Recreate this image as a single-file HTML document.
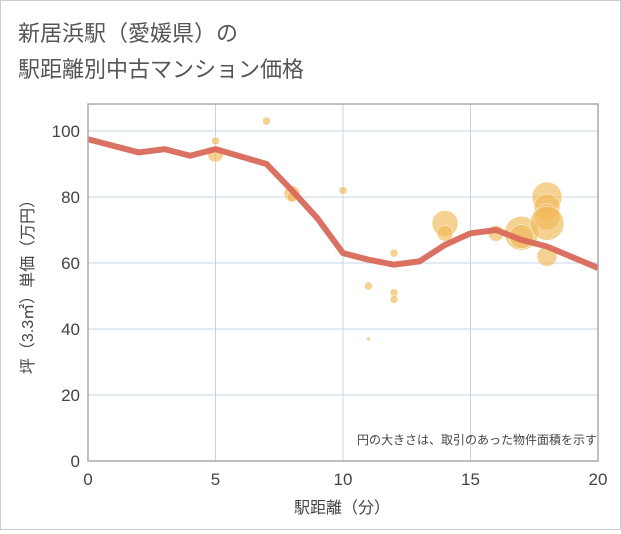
<!DOCTYPE html>
<html><head><meta charset="utf-8"><style>
body{margin:0;background:#fff;}
#wrap{position:relative;width:619px;height:528px;border:1px solid #ccc;background:#fff;font-family:"Liberation Sans","Noto Sans CJK JP",sans-serif;}
</style></head><body>
<div id="wrap">
<svg id="chart" width="619" height="528" style="font-family:'Liberation Sans','Noto Sans CJK JP',sans-serif">
<text x="17" y="40" font-size="22" fill="#555">新居浜駅（愛媛県）の</text>
<text x="17" y="76" font-size="22" fill="#555">駅距離別中古マンション価格</text>
<g id="grid"></g><g id="bubbles"></g><g id="line"></g><g id="axes"></g>
<text x="596" y="443" font-size="12" fill="#444" text-anchor="end">円の大きさは、取引のあった物件面積を示す</text>
<text x="341" y="512" font-size="16" fill="#444" text-anchor="middle">駅距離（分）</text>
<text transform="translate(32,282) rotate(-90)" font-size="16" fill="#444" text-anchor="middle">坪（3.3㎡）単価（万円）</text>
</svg></div>
<script>
const xTicks=[0,5,10,15,20];
const yTicks=[0,20,40,60,80,100];
const lineX=[0,2,3,4,5,7,8,9,10,11,12,13,14,15,16,17,18,20];
const lineY=[97.5,93.5,94.5,92.5,94.5,90,82,73.5,63,61,59.5,60.5,65.5,69,70,67,65,58.5];
const bubX=[5,5,7,8,8,10,11,11,12,12,12,14,14,16,17,17,18,18,18,18,18];
const bubY=[97,93,103,81,80,82,53,37,63,51,49,72,69,69,69,68,80,77,74,72,62];
const bubR=[4,8,4,8,5,4,4,2,4,4,4,13,8,8,17,12,15,13,13,17,10];
const NS='http://www.w3.org/2000/svg';
const L=87,R=597,T=103,B=460;
const sx=v=>L+(v-0)/20*(R-L);
const sy=v=>B-v*3.3;
function mk(tag,attrs,parent){const e=document.createElementNS(NS,tag);for(const k in attrs)e.setAttribute(k,attrs[k]);parent.appendChild(e);return e;}
const grid=document.getElementById('grid'),axes=document.getElementById('axes');
mk('rect',{x:L,y:T,width:R-L,height:B-T,fill:'none',stroke:'#aaa','stroke-width':1.5},axes);
xTicks.forEach(t=>{
 const g=mk('line',{x1:sx(t),x2:sx(t),y1:T,y2:B,stroke:'#c8d4e3'},grid);
 
 
 const tx=mk('text',{x:sx(t),y:B+24,'font-size':17,fill:'#444','text-anchor':'middle'},axes);tx.textContent=t;
 
 
});
yTicks.forEach(t=>{
 const g=mk('line',{x1:L,x2:R,y1:sy(t),y2:sy(t),stroke:'#c8d4e3'},grid);
 
 
 const tx=mk('text',{x:L-8,y:sy(t)+6,'font-size':17,fill:'#444','text-anchor':'end'},axes);tx.textContent=t;
 
 
});
const bg=document.getElementById('bubbles');
bubX.forEach((x,i)=>{
 const c=mk('circle',{cx:sx(x),cy:sy(bubY[i]),r:bubR[i],fill:'#f0b858','fill-opacity':0.65,stroke:'#fff','stroke-width':0.5},bg);
 
 
});
const p=mk('polyline',{points:lineX.map((x,i)=>sx(x)+','+sy(lineY[i])).join(' '),fill:'none',stroke:'#d9695a','stroke-width':6,'stroke-linejoin':'round','stroke-opacity':0.95},document.getElementById('line'));


</script>
</body></html>
